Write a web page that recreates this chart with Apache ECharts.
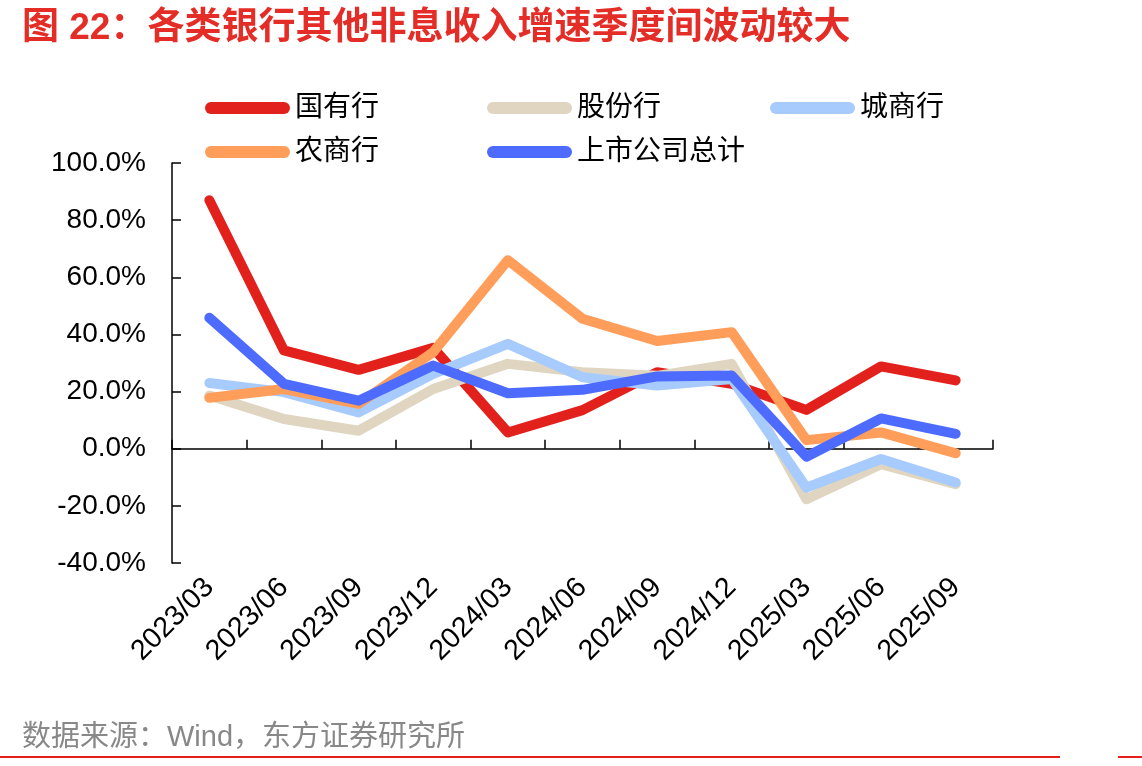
<!DOCTYPE html>
<html>
<head>
    <meta charset="utf-8">
    <title>各类银行其他非息收入增速</title>
    <script src="https://cdn.jsdelivr.net/npm/echarts@6/dist/echarts.min.js"></script>
    <style>
        body { margin: 0; background: #fff; }
    </style>
</head>
<body>
    <div id="main" style="width: 1142px; height: 766px;"></div>

    <script>
        // 季度
        var quarters = ['2023/03', '2023/06', '2023/09', '2023/12', '2024/03', '2024/06',
                        '2024/09', '2024/12', '2025/03', '2025/06', '2025/09'];

        // 其他非息收入同比增速（%）
        var guoyou   = [87.0, 34.4, 27.6, 35.3, 5.7, 13.5, 26.8, 22.7, 13.6, 28.8, 23.9];
        var gufen    = [18.6, 10.4, 6.3, 20.9, 29.7, 26.8, 25.5, 29.7, -17.7, -5.4, -12.4];
        var chengshang = [23.0, 19.8, 12.7, 26.2, 36.7, 25.0, 22.1, 24.4, -13.6, -3.6, -11.8];
        var nongshang  = [17.8, 20.9, 15.7, 33.8, 66.0, 45.5, 37.7, 40.8, 3.0, 5.7, -1.6];
        var zongji   = [45.8, 22.7, 16.8, 29.1, 19.4, 20.6, 25.3, 25.6, -2.8, 10.6, 5.2];

        var names  = ['国有行', '股份行', '城商行', '农商行', '上市公司总计'];
        var colors = ['#e3211c', '#dfd5c0', '#a7cbfd', '#ff9e5a', '#4d6bfe'];
        var values = [guoyou, gufen, chengshang, nongshang, zongji];

        var font = '"Liberation Sans Narrow", "Liberation Sans", Arial, "Noto Sans CJK SC", sans-serif';
        var capsule = 'path://M6,0 L79,0 A6,6 0 0 1 79,12 L6,12 A6,6 0 0 1 6,0 Z';

        var chart = echarts.init(document.getElementById('main'));

        // 图例位置（两行）
        var legendPos = [[205, 94], [487, 94], [770, 94], [205, 138], [487, 138]];
        var legends = names.map(function (n, i) {
            return {
                data: [n],
                left: legendPos[i][0],
                top: legendPos[i][1],
                padding: 0,
                icon: capsule,
                itemWidth: 85,
                itemHeight: 12,
                selectedMode: false,
                textStyle: { fontSize: 28, color: '#000', fontFamily: font }
            };
        });

        var series = names.map(function (n, i) {
            return {
                name: n,
                type: 'line',
                data: values[i],
                symbol: 'none',
                color: colors[i],
                lineStyle: { width: 10, color: colors[i], cap: 'round', join: 'round' },
                xAxisIndex: 0,
                yAxisIndex: 0
            };
        });

        var option = {
            backgroundColor: '#fff',
            animation: false,
            title: {
                text: '图 22：各类银行其他非息收入增速季度间波动较大',
                left: 17,
                top: 5,
                textStyle: { fontSize: 37, fontWeight: 'bold', color: '#e52d27', fontFamily: font }
            },
            legend: legends,
            grid: { left: 172, top: 163, width: 821, height: 400 },
            xAxis: [
                {
                    type: 'category',
                    data: quarters,
                    position: 'bottom',
                    axisLine: { show: false, onZero: false },
                    axisTick: { show: false },
                    axisLabel: {
                        rotate: 45,
                        fontSize: 28.5,
                        color: '#000',
                        fontFamily: font,
                        margin: 20,
                        interval: 0
                    }
                },
                {
                    type: 'category',
                    data: quarters,
                    position: 'bottom',
                    axisLine: { show: true, onZero: true, lineStyle: { color: '#000', width: 1.5 } },
                    axisTick: { show: true, inside: true, length: 9, lineStyle: { color: '#000', width: 1.5 } },
                    axisLabel: { show: false }
                }
            ],
            yAxis: {
                type: 'value',
                min: -40,
                max: 100,
                interval: 20,
                axisLine: { show: true, lineStyle: { color: '#000', width: 1.5 } },
                axisTick: { show: true, inside: true, length: 9, lineStyle: { color: '#000', width: 1.5 } },
                splitLine: { show: false },
                axisLabel: {
                    fontSize: 28,
                    color: '#000',
                    fontFamily: font,
                    margin: 26,
                    formatter: function (v) { return v.toFixed(1) + '%'; }
                }
            },
            series: series,
            graphic: [
                {
                    type: 'text',
                    left: 22,
                    top: 723,
                    style: {
                        text: '数据来源：Wind，东方证券研究所',
                        fontSize: 29,
                        fill: '#888',
                        fontFamily: font
                    }
                },
                {
                    type: 'rect',
                    shape: { x: 0, y: 756, width: 1060, height: 2 },
                    style: { fill: '#e3211c' }
                },
                {
                    type: 'rect',
                    shape: { x: 1118, y: 756, width: 24, height: 2 },
                    style: { fill: '#e3211c' }
                }
            ]
        };

        chart.setOption(option);
    </script>
</body>
</html>
